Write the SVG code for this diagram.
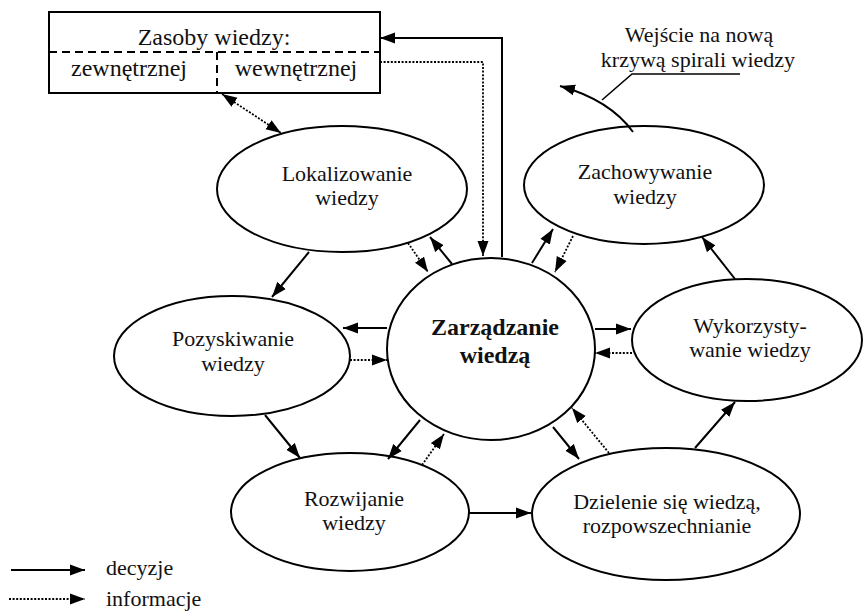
<svg xmlns="http://www.w3.org/2000/svg" width="863" height="612" viewBox="0 0 863 612" font-family="Liberation Serif, Tinos, DejaVu Serif, serif">
<style>
text{font-family:"Liberation Serif",Tinos,"DejaVu Serif",serif;font-size:22px;fill:#111;text-anchor:middle}
.b{font-size:24px;font-weight:bold}
.bx{font-size:24px}
.lg{text-anchor:start}
.shape{fill:#fff;stroke:#000;stroke-width:2}
.dash{fill:none;stroke:#000;stroke-width:2;stroke-dasharray:8,5}
.s{fill:none;stroke:#000;stroke-width:2}
.d{fill:none;stroke:#000;stroke-width:1.8;stroke-dasharray:2,1.6}
</style>
<defs>
<marker id="a" markerUnits="userSpaceOnUse" markerWidth="16" markerHeight="12" refX="15" refY="6" orient="auto-start-reverse">
<path d="M0,0.5 L15,6 L0,11.5 z" fill="#000"/>
</marker>
</defs>
<rect width="863" height="612" fill="#fff"/>

<g id="zasoby">
<rect class="shape" x="49" y="12" width="331" height="81"/>
<line class="dash" x1="49" y1="52" x2="380" y2="52"/>
<line class="dash" x1="217" y1="52" x2="217" y2="93"/>
<text class="bx" x="214" y="45">Zasoby wiedzy:</text>
<text class="bx" x="129" y="76">zewnętrznej</text>
<text class="bx" x="296" y="76">wewnętrznej</text>
</g>

<g id="lokalizowanie">
<ellipse class="shape" cx="342" cy="189" rx="125" ry="63"/>
<text x="347" y="181">Lokalizowanie</text>
<text x="347" y="205">wiedzy</text>
</g>

<g id="zachowywanie">
<ellipse class="shape" cx="644" cy="185" rx="120" ry="59"/>
<text x="645" y="179">Zachowywanie</text>
<text x="645" y="204">wiedzy</text>
</g>

<g id="pozyskiwanie">
<ellipse class="shape" cx="232" cy="356" rx="118" ry="60"/>
<text x="233" y="346">Pozyskiwanie</text>
<text x="233" y="371">wiedzy</text>
</g>

<g id="zarzadzanie">
<ellipse class="shape" cx="491" cy="349" rx="104" ry="91"/>
<text class="b" x="495" y="335">Zarządzanie</text>
<text class="b" x="495" y="363">wiedzą</text>
</g>

<g id="wykorzystywanie">
<ellipse class="shape" cx="747" cy="340" rx="115" ry="61"/>
<text x="750" y="333">Wykorzysty-</text>
<text x="750" y="357">wanie wiedzy</text>
</g>

<g id="rozwijanie">
<ellipse class="shape" cx="350" cy="512" rx="119" ry="59"/>
<text x="354" y="506">Rozwijanie</text>
<text x="354" y="530">wiedzy</text>
</g>

<g id="dzielenie">
<ellipse class="shape" cx="666" cy="514" rx="134" ry="66"/>
<text x="667" y="509">Dzielenie się wiedzą,</text>
<text x="667" y="533">rozpowszechnianie</text>
</g>

<g id="nowa-krzywa">
<text x="699" y="42">Wejście na nową</text>
<text x="698" y="67">krzywą spirali wiedzy</text>
</g>

<g id="connectors">
<polyline class="s" points="502,257 502,38 380,38" marker-end="url(#a)"/>
<polyline class="d" points="380,62 483,62 483,256" marker-end="url(#a)"/>
<line class="d" x1="222" y1="94" x2="281" y2="133" marker-start="url(#a)" marker-end="url(#a)"/>
<line class="s" x1="309" y1="252" x2="272" y2="297" marker-end="url(#a)"/>
<line class="d" x1="408" y1="243" x2="428" y2="272" marker-end="url(#a)"/>
<line class="s" x1="452" y1="264" x2="430" y2="237" marker-end="url(#a)"/>
<line class="s" x1="532" y1="263" x2="553" y2="229" marker-end="url(#a)"/>
<line class="d" x1="573" y1="236" x2="555" y2="272" marker-end="url(#a)"/>
<line class="s" x1="735" y1="279" x2="702" y2="237" marker-end="url(#a)"/>
<line class="s" x1="387" y1="328" x2="343" y2="328" marker-end="url(#a)"/>
<line class="d" x1="350" y1="360" x2="387" y2="360" marker-end="url(#a)"/>
<line class="s" x1="595" y1="329" x2="631" y2="329" marker-end="url(#a)"/>
<line class="d" x1="632" y1="353" x2="595" y2="353" marker-end="url(#a)"/>
<line class="s" x1="265" y1="415" x2="300" y2="458" marker-end="url(#a)"/>
<line class="s" x1="420" y1="420" x2="388" y2="459" marker-end="url(#a)"/>
<line class="d" x1="422" y1="465" x2="444" y2="434" marker-end="url(#a)"/>
<line class="s" x1="469" y1="513" x2="531" y2="513" marker-end="url(#a)"/>
<line class="s" x1="553" y1="427" x2="579" y2="459" marker-end="url(#a)"/>
<line class="d" x1="609" y1="453" x2="572" y2="408" marker-end="url(#a)"/>
<line class="s" x1="695" y1="448" x2="735" y2="402" marker-end="url(#a)"/>
<path class="s" d="M633,132 Q610,100 560,86" marker-end="url(#a)"/>
<polyline fill="none" stroke="#000" stroke-width="1.6" points="602,100 632,74 740,74"/>
</g>

<g id="legend">
<line class="s" x1="11" y1="570" x2="85" y2="570" marker-end="url(#a)"/>
<line class="d" x1="9" y1="599" x2="85" y2="599" stroke-width="1.2" marker-end="url(#a)"/>
<text class="lg" x="106" y="575">decyzje</text>
<text class="lg" x="106" y="606">informacje</text>
</g>
</svg>
